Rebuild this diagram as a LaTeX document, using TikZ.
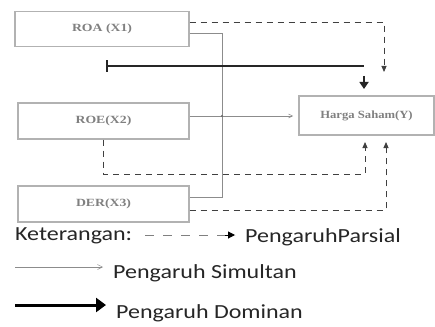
\documentclass[tikz,border=0pt]{standalone}
\usepackage{fontspec}
\setmainfont{Carlito}
\newfontfamily\boxfont{Liberation Serif}
\usetikzlibrary{arrows.meta}
\begin{document}
\begin{tikzpicture}[x=1pt,y=-1pt,
  varbox/.style={draw=black!30,line width=1.2pt,fill=white,inner sep=0pt,
    font=\boxfont\bfseries\fontsize{11}{12}\selectfont,text=black!50},
  partial/.style={draw=black!75,line width=0.9pt,dash pattern=on 6pt off 5pt,
    -{Triangle[length=6pt,width=5pt]}},
  simul/.style={draw=black!45,line width=0.5pt},
  dominan/.style={draw=black!85,line width=2.2pt},
  legtext/.style={anchor=west,inner sep=0pt,font=\fontsize{20}{24}\selectfont,text=black!85}]
\useasboundingbox (0,0) rectangle (435,326);
\fill[white] (0,0) rectangle (435,326);
% boxes
\node[varbox,minimum width=174pt,minimum height=35pt] (b1) at (102,29) {\scalebox{1.25}[1]{ROA (X1)}};
\node[varbox,minimum width=171pt,minimum height=36pt] (b2) at (103.5,121) {\scalebox{1.25}[1]{ROE(X2)}};
\node[varbox,minimum width=171pt,minimum height=36pt] (b3) at (103.5,204) {\scalebox{1.25}[1]{DER(X3)}};
\node[varbox,minimum width=135pt,minimum height=39pt] (y) at (366.5,115.5) {\scalebox{1.15}[1]{Harga Saham(Y)}};
% coordinates
\coordinate (p1) at (384,72);
\coordinate (dom0) at (106,66);
\coordinate (dom1) at (364,66);
\coordinate (domA) at (364,76);
\coordinate (domB) at (364,89);
\coordinate (j1) at (222,33);
\coordinate (j2) at (222,197);
\coordinate (s2) at (293,116);
\coordinate (p2) at (365,142);
\coordinate (p3) at (386,142);
% partial (dashed)
\draw[partial] (b1.east |- 0,22) -| (p1);
\draw[partial] (b2.south) |- (0,174 -| p2) -- (p2);
\draw[partial] (b3.east |- 0,210) -| (p3);
% simultaneous (thin)
\draw[simul] (b1.east |- j1) -- (j1) -- (j2) -- (b3.east |- j2);
\draw[simul,-{Straight Barb[length=4pt,width=4pt]}] (b2.east |- s2) -- (s2);
\fill[black!60] (222,66) circle (1.2pt) (222,116) circle (1.2pt);
% dominant (thick)
\draw[dominan,{Bar[width=12pt]}-] (dom0) -- (dom1);
\draw[dominan,-{Triangle[length=7pt,width=9pt]}] (domA) -- (domB);
% legend
\node[legtext] (k) at (15,236) {\scalebox{1.2}[1]{Keterangan:}};
\coordinate (l1a) at (145,235); \coordinate (l1b) at (235,235);
\draw[draw=black!50,line width=1pt,dash pattern=on 9pt off 9pt] (l1a) -- (l1b);
\draw[black,line width=1pt,-{Triangle[length=7pt,width=7pt]}] (225,235) -- (l1b);
\node[legtext] (lp) at (245,237) {\scalebox{1.2}[1]{PengaruhParsial}};
\coordinate (l2a) at (15,267); \coordinate (l2b) at (103,267);
\draw[simul,-{Straight Barb[length=5pt,width=5pt]}] (l2a) -- (l2b);
\node[legtext] (ls) at (113,273) {\scalebox{1.2}[1]{Pengaruh Simultan}};
\coordinate (l3a) at (15,305); \coordinate (l3b) at (106,305);
\draw[line width=3pt,-{Triangle[length=10pt,width=14pt]}] (l3a) -- (l3b);
\node[legtext] (ld) at (116,313) {\scalebox{1.2}[1]{Pengaruh Dominan}};
\end{tikzpicture}
\end{document}
